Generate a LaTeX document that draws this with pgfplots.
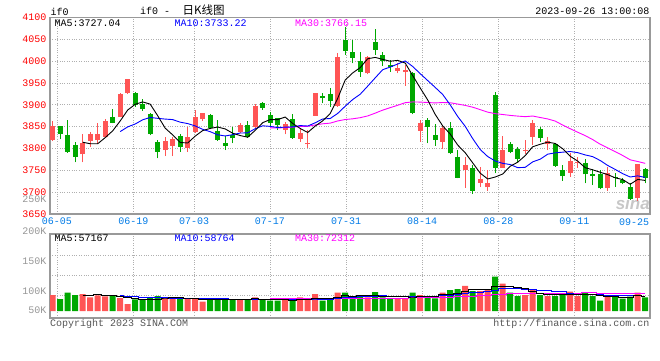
\documentclass[border=0pt]{standalone}
\usepackage{pgfplots}
\pgfplotsset{compat=1.18}
\usepackage{pgfplotstable}
\usepackage{fontspec}
\setmainfont{Liberation Mono}
\newfontfamily\mono{Liberation Mono}
\newfontfamily\cjk{Noto Sans CJK SC}
\newfontfamily\sans{Liberation Sans}

\definecolor{cred}{RGB}{255,85,85}
\definecolor{cgreen}{RGB}{0,168,0}
\definecolor{cblue}{RGB}{0,0,255}
\definecolor{cmag}{RGB}{255,0,255}
\definecolor{cdate}{RGB}{0,122,230}
\definecolor{cframe}{RGB}{153,153,153}
\definecolor{cgrid}{RGB}{175,175,175}
\definecolor{cvol}{RGB}{150,150,150}
\definecolor{ctxt}{RGB}{85,85,85}

% i open high low close volume(K)
\pgfplotstableread{
i o h l c v
0 3819.5 3863 3817 3851.5 62.2
4 3786.6 3834 3768 3812.6 66.1
5 3817 3838.5 3804 3834 53.1
6 3820 3859 3809.5 3834 60.9
7 3827 3866.8 3824.8 3863 57.1
9 3872.9 3927 3871.4 3925.6 50.6
10 3927 3959 3925.6 3959 27.2
15 3796.5 3827.1 3782.8 3817.2 49.3
16 3806.5 3825.6 3782.8 3821.7 49.3
18 3800.4 3850 3792.7 3827.1 49.3
19 3838.5 3888 3836.2 3872 49.3
20 3866.8 3882 3863 3880.5 36.3
25 3838.5 3859.2 3834.7 3853.8 45.4
27 3850 3901.1 3847.7 3898.1 53.1
31 3842.4 3859.9 3832.4 3855.3 45.4
33 3821.8 3846.2 3815.7 3836.2 53.1
34 3809.5 3842.4 3801.9 3813.4 42.8
35 3875.2 3927.1 3875.2 3927.1 66.1
38 3898.1 4019.4 3895.8 4010.3 71.3
42 3972.1 4012.6 3969.8 4010.3 53.1
46 3977.5 3995 3972.1 3985.1 49.3
47 3976 3991.2 3943.9 3979.8 49.3
49 3840.8 3865.3 3815.7 3859.2 62.2
52 3815.7 3853.8 3798.9 3847.7 71.3
55 3750.8 3781.3 3710.3 3762.2 97.3
57 3721.8 3758.4 3712.6 3730.2 77.8
58 3711.1 3750.8 3703.4 3721.8 81.7
60 3756.1 3829.4 3756.1 3796.5 106.3
63 3795 3819.5 3786.6 3797.3 62.2
64 3827.1 3865.3 3808 3857.6 81.7
66 3809.5 3827.1 3796.5 3817.2 58.4
69 3744.7 3788.9 3735.5 3771.4 75.2
70 3767.6 3781.3 3756.1 3769.9 58.4
74 3710.3 3758.4 3702.7 3744.7 62.2
78 3687.4 3764.5 3679.8 3764.5 71.3
}\up

\pgfplotstableread{
i o h l c v
1 3851.5 3851.5 3821 3834 46.7
2 3831 3865.3 3790.5 3793 71.3
3 3808 3814 3768 3781 62.2
8 3872 3889.7 3857.6 3859 58.4
11 3926.3 3928.6 3895.8 3899.6 45.4
12 3901 3912.6 3885.9 3890.5 45.4
13 3878.2 3881 3830 3833.2 54.5
14 3815.7 3819.5 3777.5 3792.7 58.4
17 3828.6 3832.4 3792.7 3804.2 46.7
21 3876.7 3878.2 3843.9 3846.2 42.8
22 3840 3865.3 3817.2 3819.5 49.3
23 3812.6 3829.4 3796.5 3805.7 49.3
24 3831 3850 3811.8 3823.3 45.4
26 3853.8 3863 3824.8 3827.1 42.8
28 3903.4 3905.7 3888.2 3893.5 42.8
29 3876.7 3882.8 3850 3859.2 40.2
30 3869 3870.6 3842.4 3853.8 40.2
32 3867.5 3879.8 3821.8 3824.8 40.2
36 3921 3926.3 3903.4 3914.9 40.2
37 3925.6 3939.3 3895.8 3908.8 49.3
39 4048.5 4079 4014.1 4023.3 71.3
40 4021.7 4048.5 3995 4008 53.1
41 4000.4 4021.7 3964.5 3976 58.4
43 4044.6 4073.6 4014.1 4025.6 73.9
44 4014.1 4021.7 3988.9 4000.4 53.1
45 3991.2 4002.7 3976 3987.4 49.3
48 3972.1 3976 3878.2 3882.1 71.3
50 3865.3 3870.6 3811.8 3850 58.4
51 3831 3855.3 3806.5 3819.5 49.3
53 3846.2 3859.9 3787.4 3789 81.7
54 3779.8 3796.5 3731.7 3733.2 85.6
56 3754.6 3762.2 3695.8 3703.4 77.8
59 3922.5 3928.6 3743.1 3756.1 133.6
61 3810.3 3815.7 3789 3792.7 71.3
62 3798.9 3804.2 3768.3 3776 58.4
65 3844.6 3850 3815.7 3824.8 62.2
67 3809.5 3811.8 3758.4 3760.7 58.4
68 3750.8 3762.2 3726.3 3737 66.1
71 3767.6 3776 3720.2 3740.8 71.3
72 3740.8 3752.3 3716.4 3737 58.4
73 3741.6 3750.8 3706.5 3708.8 40.2
75 3735.5 3743.1 3712.6 3733.2 58.4
76 3727.9 3733.2 3718 3720.2 48.0
77 3712.6 3720.2 3682 3683.6 55.8
79 3753.1 3756.1 3720.2 3733.2 53.1
}\down

% moving averages: price MA5 MA10 MA30, volume MA5 MA10 MA30
\pgfplotstableread{
i m5 m10 m30 v5 v10 v30
4 3814.4 nan nan 61.7 nan nan
5 3810.9 nan nan 59.9 nan nan
6 3810.9 nan nan 62.7 nan nan
7 3824.9 nan nan 59.9 nan nan
8 3840.5 nan nan 59.1 nan nan
9 3863.1 3838.8 nan 56.0 58.9 nan
10 3888.1 3849.5 nan 50.8 55.4 nan
11 3901.2 3856.1 nan 47.7 55.2 nan
12 3906.7 3865.8 nan 45.4 52.6 nan
13 3901.6 3871.1 nan 44.6 51.9 nan
14 3875.0 3869.1 nan 46.2 51.1 nan
15 3846.6 3867.4 nan 50.6 50.7 nan
16 3831.1 3866.2 nan 51.4 49.6 nan
17 3813.8 3860.3 nan 51.6 48.5 nan
18 3812.6 3857.1 nan 50.6 47.6 nan
19 3828.4 3851.7 nan 48.8 47.5 nan
20 3841.1 3843.9 nan 46.2 48.4 nan
21 3846.0 3838.5 nan 44.9 48.1 nan
22 3849.1 3831.4 nan 45.4 48.5 nan
23 3844.8 3828.7 nan 45.4 48.0 nan
24 3835.0 3831.7 nan 44.6 46.7 nan
25 3829.7 3835.4 nan 46.4 46.3 nan
26 3825.9 3835.9 nan 46.4 45.7 nan
27 3841.6 3845.3 nan 47.2 46.3 nan
28 3859.2 3852.0 nan 45.9 45.7 nan
29 3866.3 3850.7 3847.1 44.9 44.7 50.4
30 3866.3 3848.0 3847.1 43.8 45.1 49.6
31 3872.0 3848.9 3847.8 44.3 45.4 49.6
32 3857.3 3849.5 3848.9 41.8 44.5 48.5
33 3845.9 3852.5 3850.7 43.8 44.9 48.2
34 3836.7 3851.5 3850.8 44.3 44.6 47.5
35 3851.4 3858.9 3853.9 49.5 46.7 47.9
36 3863.3 3867.6 3856.6 48.5 46.4 47.2
37 3880.1 3868.7 3858.1 50.3 46.0 47.0
38 3914.9 3880.4 3863.1 53.9 48.9 47.4
39 3956.9 3896.8 3866.4 59.6 52.0 48.1
40 3973.1 3912.2 3868.0 57.0 53.3 48.9
41 3985.3 3924.3 3870.6 60.7 54.6 49.4
42 4005.6 3942.8 3874.6 61.4 55.9 49.6
43 4008.6 3961.8 3881.0 62.0 58.0 50.3
44 4004.1 3980.5 3887.9 58.3 59.0 50.1
45 3999.9 3986.5 3893.6 57.6 57.3 50.1
46 4001.8 3993.5 3899.0 55.7 58.2 50.1
47 3995.7 4000.6 3904.9 55.0 58.2 50.2
48 3967.0 3987.8 3906.7 54.5 58.2 50.9
49 3938.7 3971.4 3906.3 56.3 57.3 51.3
50 3911.2 3955.6 3905.3 58.1 57.8 52.1
51 3878.1 3939.9 3904.4 58.1 56.9 52.3
52 3851.7 3923.7 3905.3 62.5 58.7 53.0
53 3833.1 3900.0 3904.8 64.6 59.5 54.1
54 3807.9 3873.3 3901.8 69.3 62.8 55.5
55 3790.3 3850.8 3898.7 77.0 67.6 57.2
56 3767.1 3822.6 3894.6 82.7 70.4 58.3
57 3743.6 3797.7 3889.0 84.0 73.3 59.2
58 3730.2 3781.6 3883.3 84.0 74.3 60.5
59 3734.7 3771.3 3879.8 93.6 81.5 63.6
60 3741.6 3766.0 3877.9 95.4 86.2 65.8
61 3759.5 3763.3 3875.8 94.1 88.4 66.6
62 3768.6 3756.1 3874.2 90.3 87.2 67.3
63 3783.7 3756.9 3872.9 86.4 85.2 67.6
64 3804.0 3769.4 3874.4 76.0 84.8 68.9
65 3809.7 3775.6 3871.0 67.2 81.3 68.7
66 3814.6 3787.0 3867.7 64.6 79.4 69.3
67 3811.5 3790.1 3862.8 64.6 77.4 69.6
68 3799.5 3791.6 3853.7 65.4 75.9 69.5
69 3782.2 3793.1 3845.3 64.1 70.0 69.6
70 3771.2 3790.5 3837.3 63.3 65.2 69.8
71 3756.0 3785.3 3829.5 65.9 65.2 70.2
72 3751.2 3781.4 3820.4 65.9 65.2 70.4
73 3745.6 3772.5 3809.8 60.7 63.0 69.3
74 3740.2 3761.2 3801.3 58.1 61.1 69.6
75 3732.9 3752.1 3792.8 58.1 60.7 69.9
76 3728.8 3742.4 3784.0 53.4 59.7 69.8
77 3718.1 3734.7 3774.1 52.9 59.4 70.0
78 3729.2 3737.4 3770.2 59.1 59.9 70.0
79 3726.9 3733.6 3766.0 57.3 57.7 69.7
}\ma

\pgfplotsset{
  kstyle/.style={
    scale only axis, width=600pt,
    xmin=-0.36, xmax=79.64,
    axis line style={draw=cframe, line width=1.2pt},
    major tick length=0pt,
    grid=major,
    major grid style={draw=cgrid, line width=0.8pt, dash pattern=on 0.8pt off 1.6pt},
    xtick={0.573,10.747,18.84,28.97,39.107,49.24,59.413,69.547},
    tick label style={font=\mono\fontsize{10}{10}\selectfont},
  },
  wick/.style={draw=none, mark=none, forget plot,
    error bars/.cd, y dir=plus, y explicit, error mark=none,
    error bar style={draw=#1, line width=1pt, solid}},
  body/.style={draw=none, mark=none, forget plot,
    error bars/.cd, y dir=plus, y explicit, error mark=none,
    error bar style={draw=#1, line width=5.4pt, solid, line cap=butt}},
}

\begin{document}
\begin{tikzpicture}[x=1pt,y=1pt]
\path[use as bounding box] (0,0) rectangle (660,-360);

% watermark
\node[anchor=east, inner sep=0pt, text=black!22, font=\sans\bfseries\itshape\fontsize{17}{17}\selectfont] at (650,-203) {sina};

% titles
\node[anchor=west, inner sep=0pt, font=\mono\fontsize{10}{10}\selectfont] at (50.5,-12) {if0};
\node[anchor=west, inner sep=0pt, font=\mono\fontsize{10}{10}\selectfont] at (140,-10.5) {if0 -};
\node[anchor=west, inner sep=0pt, font=\cjk\fontsize{11.5}{12}\selectfont] at (182.5,-10.5) {日K线图};
\node[anchor=east, inner sep=0pt, font=\mono\fontsize{10}{10}\selectfont] at (649.5,-11.5) {2023-09-26 13:00:08};

\begin{axis}[kstyle, at={(50pt,-17.5pt)}, anchor=north west, height=196.5pt,
  ymin=3650, ymax=4100,
  ytick={3650,3700,3750,3800,3850,3900,3950,4000,4050,4100},
  yticklabels={3650,3700,3750,3800,3850,3900,3950,4000,4050,4100},
  yticklabel style={text=red},
  xticklabels={06-05,06-19,07-03,07-17,07-31,08-14,08-28,09-11},
  xticklabel style={text=cdate, yshift=-0.5pt},
  extra x ticks={77.51}, extra x tick labels={09-25},
  extra x tick style={grid=none, xticklabel style={text=cdate, yshift=-0.5pt}},
]
\addplot[wick=cred] table[x=i, y=l, y error plus expr=\thisrow{h}-\thisrow{l}] {\up};
\addplot[body=cred] table[x=i, y=o, y error plus expr=\thisrow{c}-\thisrow{o}] {\up};
\addplot[wick=cgreen] table[x=i, y=l, y error plus expr=\thisrow{h}-\thisrow{l}] {\down};
\addplot[body=cgreen] table[x=i, y=c, y error plus expr=\thisrow{o}-\thisrow{c}] {\down};
\addplot[draw=cmag, line width=0.9pt, mark=none] table[x=i, y=m30] {\ma};
\addplot[draw=cblue, line width=0.9pt, mark=none] table[x=i, y=m10] {\ma};
\addplot[draw=black, line width=0.9pt, mark=none] table[x=i, y=m5] {\ma};
\end{axis}

\node[anchor=west, inner sep=0pt, font=\mono\fontsize{10}{10}\selectfont] at (54.3,-23.5) {MA5:3727.04};
\node[anchor=west, inner sep=0pt, text=cblue, font=\mono\fontsize{10}{10}\selectfont] at (174.3,-23.5) {MA10:3733.22};
\node[anchor=west, inner sep=0pt, text=cmag, font=\mono\fontsize{10}{10}\selectfont] at (295,-23.5) {MA30:3766.15};

\begin{axis}[kstyle, at={(50pt,-234pt)}, anchor=north west, height=84pt,
  ymin=-27.2, ymax=299.5,
  ytick={62.2,140,217.8}, yticklabels={},
  xticklabels={},
  extra y ticks={3.9,77.8,194.5}, extra y tick labels={50K,100K,150K},
  extra y tick style={grid=none, yticklabel style={text=cvol}},
]
\addplot[ybar, bar width=6pt, bar shift=0pt, fill=cred, draw=none, forget plot] table[x=i, y=v] {\up};
\addplot[ybar, bar width=6pt, bar shift=0pt, fill=cgreen, draw=none, forget plot] table[x=i, y=v] {\down};
\addplot[draw=cmag, line width=1pt, mark=none, const plot mark mid] table[x=i, y=v30] {\ma};
\addplot[draw=cblue, line width=1pt, mark=none, const plot mark mid] table[x=i, y=v10] {\ma};
\addplot[draw=black, line width=1pt, mark=none, const plot mark mid] table[x=i, y=v5] {\ma};
\end{axis}

\node[anchor=east, inner sep=0pt, text=cvol, font=\mono\fontsize{10}{10}\selectfont] at (46.7,-231) {200K};
\node[anchor=east, inner sep=0pt, text=cvol, font=\mono\fontsize{10}{10}\selectfont] at (46.7,-199.3) {250K};

\node[anchor=west, inner sep=0pt, font=\mono\fontsize{10}{10}\selectfont] at (54.3,-238.5) {MA5:57167};
\node[anchor=west, inner sep=0pt, text=cblue, font=\mono\fontsize{10}{10}\selectfont] at (174.3,-238.5) {MA10:58764};
\node[anchor=west, inner sep=0pt, text=cmag, font=\mono\fontsize{10}{10}\selectfont] at (295,-238.5) {MA30:72312};

\node[anchor=west, inner sep=0pt, text=ctxt, font=\mono\fontsize{10}{10}\selectfont] at (50,-323.5) {Copyright 2023 SINA.COM};
\node[anchor=east, inner sep=0pt, text=ctxt, font=\mono\fontsize{10}{10}\selectfont] at (649.5,-324) {http://finance.sina.com.cn};
\end{tikzpicture}
\end{document}
